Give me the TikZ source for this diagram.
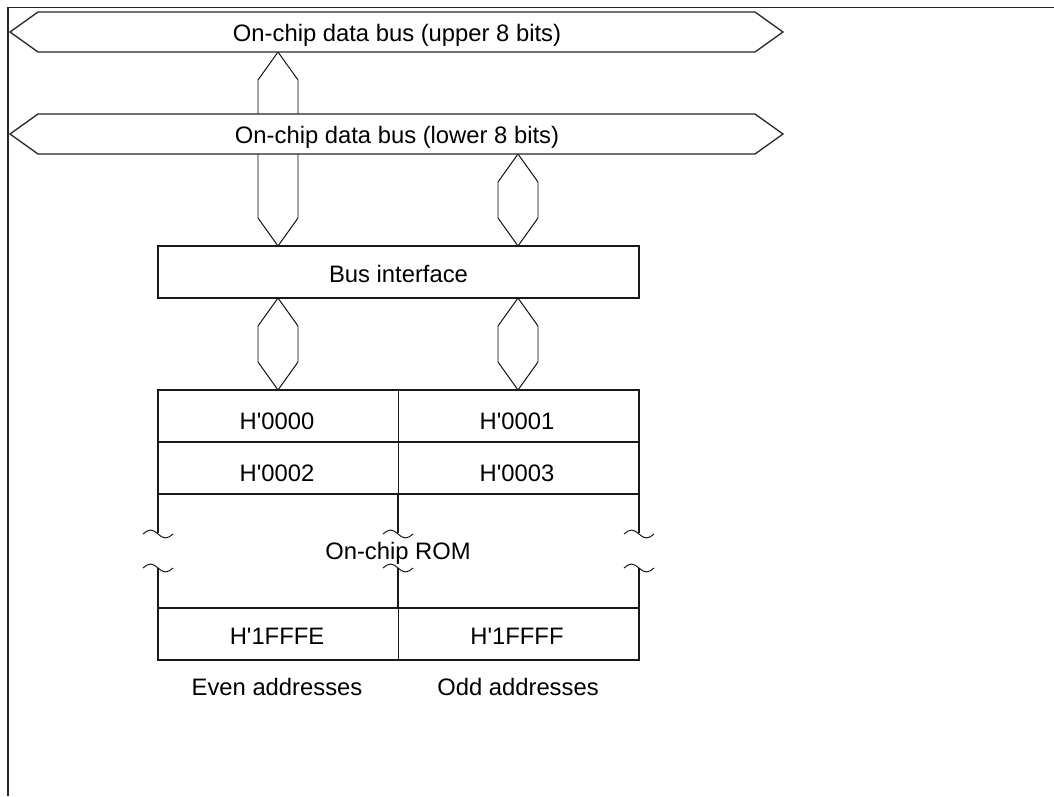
\documentclass[tikz,border=0pt]{standalone}
\usepackage{fontspec}
\setmainfont{Liberation Sans}[Ligatures=TeXOff]
\usetikzlibrary{calc}
\begin{document}
\begin{tikzpicture}[x=1pt,y=-1pt,
  frame/.style={line width=1.6pt,black!85},
  bus/.style={draw,line width=1.3pt,black!85,fill=white,line join=miter},
  conn/.style={draw,line width=0.9pt,fill=white,line join=miter},
  boxline/.style={line width=1.3pt,black!90},
  cell/.style={draw,boxline,rectangle,inner sep=0pt,minimum width=240.5pt,minimum height=52pt},
  lbl/.style={anchor=base,inner sep=0pt,font=\fontsize{23.8}{28}\selectfont},
  brk/.style={line width=0.9pt}]
\useasboundingbox (0,0) rectangle (1054,796);
% frame
\draw[frame] (8,796) -- (8,7.5) -- (1054,7.5);

\newcommand\hexconn[2]{%
  \path[conn] (#1) -- ($(#1)+(20,28)$) -- ($(#2)+(20,-28)$) -- (#2)
    -- ($(#2)+(-20,-28)$) -- ($(#1)+(-20,28)$) -- cycle;}

% named coordinates
\coordinate (ubB) at (278,52);
\coordinate (lbE) at (278,154);
\coordinate (lbO) at (518,154);
\coordinate (biTE) at (278,246);
\coordinate (biTO) at (518,246);
\coordinate (biBE) at (278,298);
\coordinate (biBO) at (518,298);
\coordinate (tbE) at (278,390);
\coordinate (tbO) at (518,390);

% connector between the two buses (behind lower bus)
\hexconn{ubB}{biTE}
\hexconn{lbO}{biTO}

% buses
\path[bus] (10,32) -- (38,12) -- (755,12) -- (783,32) -- (755,52) -- (38,52) -- cycle;
\path[bus] (10,134) -- (38,114) -- (755,114) -- (783,134) -- (755,154) -- (38,154) -- cycle;
\node[lbl] (ubt) at (397,41) {On-chip data bus (upper 8 bits)};
\node[lbl] (lbt) at (397,143) {On-chip data bus (lower 8 bits)};

% bus interface
\node[draw,boxline,rectangle,inner sep=0pt,minimum width=481pt,minimum height=52pt] (bi) at (398.5,272) {};
\node[lbl] (bit) at (398.5,282) {Bus interface};

% lower connectors
\hexconn{biBE}{tbE}
\hexconn{biBO}{tbO}

% table cells
\node[cell] (c0) at (278.25,416) {};
\node[cell] (c1) at (518.75,416) {};
\node[cell] (c2) at (278.25,468) {};
\node[cell] (c3) at (518.75,468) {};
\node[cell] (c4) at (278.25,634) {};
\node[cell] (c5) at (518.75,634) {};
\node[lbl] at (277,429) {H'0000};
\node[lbl] at (517,429) {H'0001};
\node[lbl] at (277,481) {H'0002};
\node[lbl] at (517,481) {H'0003};
\node[lbl] at (277,644) {H'1FFFE};
\node[lbl] at (517,644) {H'1FFFF};
\node[lbl] (rom) at (398,559) {On-chip ROM};
\node[lbl] (ev) at (277,695) {Even addresses};
\node[lbl] (od) at (518,695) {Odd addresses};

% ROM region side lines with breaks
\foreach \x in {158,398,639}{
  \draw[boxline] (\x,494) -- (\x,533);
  \draw[boxline] (\x,568) -- (\x,608);
  \draw[brk] (\x-15,534) sin (\x-7.5,530) cos (\x,534) sin (\x+7.5,538) cos (\x+15,534);
  \draw[brk] (\x-15,568) sin (\x-7.5,564) cos (\x,568) sin (\x+7.5,572) cos (\x+15,568);
}
\end{tikzpicture}
\end{document}
